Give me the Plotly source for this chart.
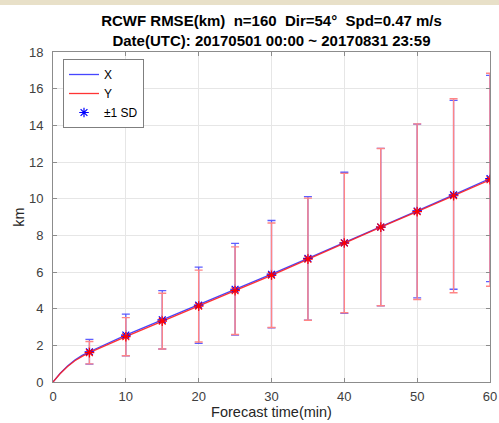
import plotly.graph_objects as go

# ---- data ----
times = [5, 10, 15, 20, 25, 30, 35, 40, 45, 50, 55, 60]
x_mean = [1.65, 2.56, 3.39, 4.19, 5.06, 5.88, 6.74, 7.59, 8.45, 9.33, 10.21, 11.10]
x_sd = [0.67, 1.14, 1.59, 2.08, 2.50, 2.93, 3.37, 3.85, 4.29, 4.74, 5.15, 5.62]
y_mean = [1.60, 2.47, 3.32, 4.14, 4.98, 5.82, 6.70, 7.58, 8.45, 9.29, 10.16, 11.03]
y_sd = [0.61, 1.04, 1.52, 1.96, 2.39, 2.85, 3.33, 3.80, 4.29, 4.79, 5.29, 5.81]
# early-minute part of the curves (minutes 0-4)
early_t = [0, 1, 2, 3, 4]
x_early = [0.0, 0.48, 0.88, 1.20, 1.45]
y_early = [0.0, 0.46, 0.85, 1.16, 1.40]

title_l1 = "RCWF RMSE(km)  n=160  Dir=54°  Spd=0.47 m/s"
title_l2 = "Date(UTC): 20170501 00:00 ~ 20170831 23:59"

FONT = "Liberation Sans, Arial, sans-serif"
BLUE = "rgb(0,0,255)"
RED = "rgb(255,0,0)"

L, R, T, B = 53, 9, 52, 41
W, H = 499, 423
PW, PH = W - L - R, H - T - B

fig = go.Figure()

# lines
fig.add_trace(go.Scatter(x=early_t + times, y=x_early + x_mean, mode="lines",
                         line=dict(color="rgba(50,50,255,0.9)", width=1.3), name="X"))
fig.add_trace(go.Scatter(x=early_t + times, y=y_early + y_mean, mode="lines",
                         line=dict(color="rgba(255,30,30,0.9)", width=1.3), name="Y"))

# error bars + markers
fig.add_trace(go.Scatter(x=times, y=x_mean, mode="markers", name="±1 SD",
                         marker=dict(symbol="asterisk-open", size=8, color=BLUE,
                                     line=dict(color=BLUE, width=1.2)),
                         error_y=dict(type="data", array=x_sd, visible=True,
                                      color="rgba(40,40,255,0.75)", thickness=1.3, width=4)))
fig.add_trace(go.Scatter(x=times, y=y_mean, mode="markers", name="Y sd", showlegend=False,
                         marker=dict(symbol="asterisk-open", size=8, color=RED,
                                     line=dict(color="rgba(230,0,0,0.9)", width=1.2)),
                         error_y=dict(type="data", array=y_sd, visible=True,
                                      color="#ff8585", thickness=1.4, width=4)))

axis_common = dict(showline=True, linecolor="#8c8c8c", linewidth=1, mirror="ticks",
                   ticks="inside", ticklen=4, tickcolor="#8c8c8c", automargin=False,
                   showgrid=True, gridcolor="#e6e6e6", gridwidth=1, zeroline=False,
                   tickfont=dict(family=FONT, size=13, color="#404040"))

fig.update_layout(
    width=W, height=H,
    margin=dict(l=L, r=R, t=T, b=B, autoexpand=False),
    paper_bgcolor="white", plot_bgcolor="white",
    title=dict(text="<b>" + title_l1 + "</b><br><b>" + title_l2 + "</b>",
               x=(L + W - R) / 2 / W, xanchor="center", y=1 - 26 / H, yanchor="top",
               font=dict(family=FONT, size=15, color="black")),
    xaxis=dict(range=[0, 60], tickvals=[0, 10, 20, 30, 40, 50, 60],
               title=dict(text="Forecast time(min)", standoff=2,
                          font=dict(family=FONT, size=14.5, color="#262626")),
               ticklabelstandoff=2,
               **axis_common),
    yaxis=dict(range=[0, 18], tickvals=list(range(0, 19, 2)),
               title=dict(text="km", standoff=0,
                          font=dict(family=FONT, size=14.5, color="#262626")),
               ticklabelstandoff=6,
               **axis_common),
    legend=dict(x=10 / PW, y=1 - 7 / PH, xanchor="left", yanchor="top",
                bgcolor="white", bordercolor="#7f7f7f", borderwidth=1,
                font=dict(family=FONT, size=12, color="black"),
                tracegroupgap=0, entrywidth=70),
    showlegend=True,
    annotations=[dict(text=" ", xref="paper", yref="paper",
                      x=(W / 2 - L) / PW, xanchor="center",
                      y=1 + T / PH, yanchor="top",
                      width=W, height=5, bgcolor="#E8E0C8", borderpad=0, borderwidth=0,
                      showarrow=False, font=dict(size=2))],
)

fig.write_html("out.html", config={"displayModeBar": False},
               post_script="document.body.style.margin='0';document.body.style.overflow='hidden';")
